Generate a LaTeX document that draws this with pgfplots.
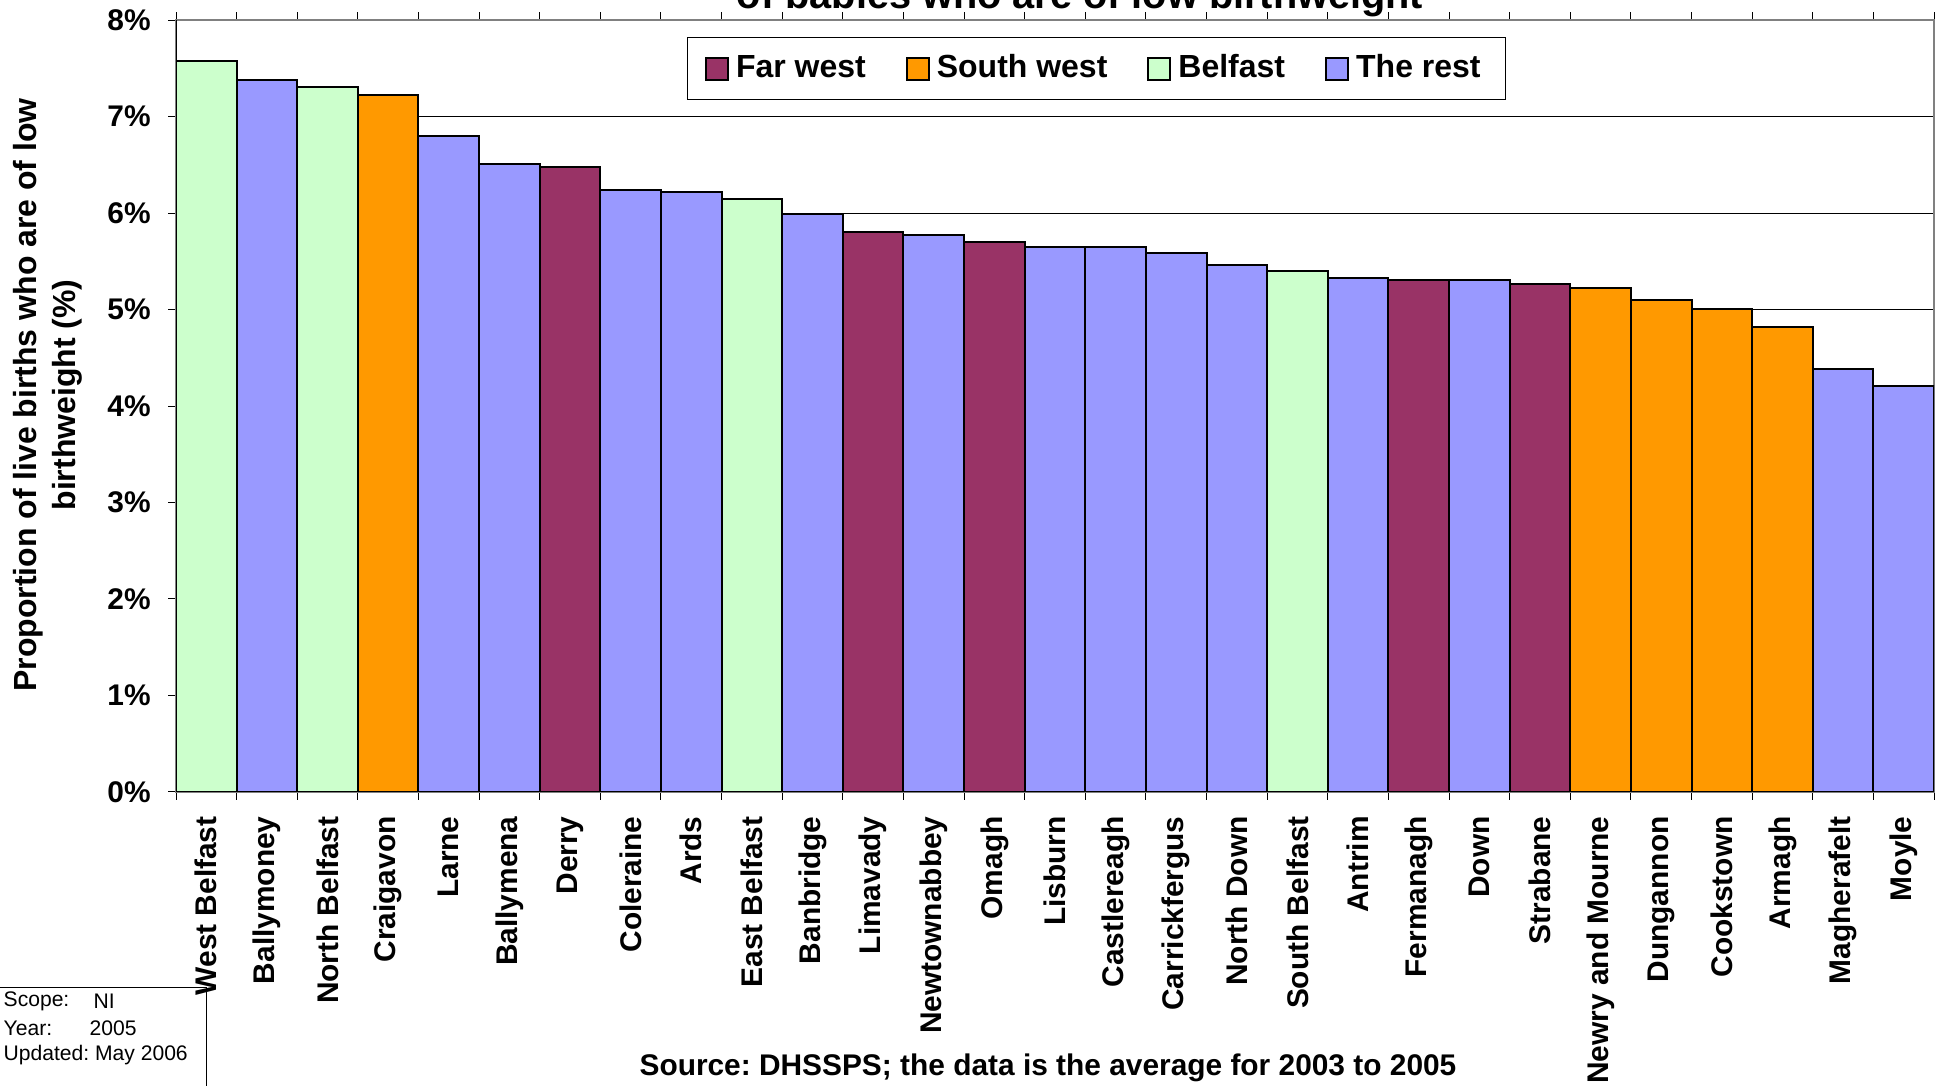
\documentclass[border=0pt]{standalone}
\usepackage{pgfplots}
\pgfplotsset{compat=1.18}
\usepackage{fontspec}
\setmainfont{Liberation Sans}
\frenchspacing

\definecolor{farwest}{RGB}{153,51,102}
\definecolor{southwest}{RGB}{255,153,0}
\definecolor{belfast}{RGB}{204,255,204}
\definecolor{therest}{RGB}{153,153,255}

\begin{document}
\begin{tikzpicture}[x=0.1mm,y=0.1mm]
	% page = 1935 x 1086 px, 1px = 0.1mm
	\useasboundingbox (0,0) rectangle (1935,1086);

	\begin{axis}[
		at={(176mm*0.1,294mm*0.1)}, anchor=south west,
		scale only axis,
		width=175.8mm, height=77.2mm,
		ybar,
		bar width=1,
		xmin=-0.5, xmax=28.5,
		ymin=0, ymax=8,
		xtick={-0.5,0.5,...,28.5},
		x tick label as interval,
		xticklabels={West Belfast,Ballymoney,North Belfast,Craigavon,Larne,Ballymena,Derry,Coleraine,Ards,East Belfast,Banbridge,Limavady,Newtownabbey,Omagh,Lisburn,Castlereagh,Carrickfergus,North Down,South Belfast,Antrim,Fermanagh,Down,Strabane,Newry and Mourne,Dungannon,Cookstown,Armagh,Magherafelt,Moyle},
		xticklabel style={rotate=90, anchor=east, font=\fontsize{8.5}{10}\selectfont\bfseries, xshift=-0.4mm},
		ytick={0,...,8},
		yticklabels={0\%,1\%,2\%,3\%,4\%,5\%,6\%,7\%,8\%},
		yticklabel style={font=\fontsize{8.5}{10}\selectfont\bfseries, xshift=-0.5mm},
		tick align=outside,
		major tick length=0.8mm,
		tick style={black, line width=0.1mm},
		ymajorgrids=true,
		grid style={black, line width=0.1mm},
		axis line style={gray, line width=0.2mm},
		legend columns=4,
		legend style={at={(0.5235,0.937)}, anchor=center, draw=black, line width=0.1mm,
			font=\fontsize{9.1}{11}\selectfont\bfseries,
			/tikz/every even column/.append style={column sep=3.3mm},
			inner xsep=1.8mm, inner ysep=1.0mm},
		legend image code/.code={\draw[#1, line width=0.2mm] (0,-1.1mm) rectangle (2.2mm,1.1mm);},
	]

	\addplot[fill=farwest, draw=black, line width=0.2mm, bar shift=0pt]
		coordinates {(6,6.48)(11,5.80)(13,5.70)(20,5.31)(22,5.26)};
	\addlegendentry{Far west}

	\addplot[fill=southwest, draw=black, line width=0.2mm, bar shift=0pt]
		coordinates {(3,7.22)(23,5.22)(24,5.10)(25,5.01)(26,4.82)};
	\addlegendentry{South west}

	\addplot[fill=belfast, draw=black, line width=0.2mm, bar shift=0pt]
		coordinates {(0,7.57)(2,7.31)(9,6.14)(18,5.40)};
	\addlegendentry{Belfast}

	\addplot[fill=therest, draw=black, line width=0.2mm, bar shift=0pt]
		coordinates {(1,7.38)(4,6.80)(5,6.51)(7,6.24)(8,6.22)(10,5.99)(12,5.77)
		(14,5.65)(15,5.65)(16,5.59)(17,5.46)(19,5.33)(21,5.31)(27,4.38)(28,4.21)};
	\addlegendentry{The rest}

	\draw[black, line width=0.15mm] (rel axis cs:0,0) -- (rel axis cs:0,1);
	\draw[black, line width=0.15mm] (rel axis cs:0,0) -- (rel axis cs:1,0);
	\end{axis}

	% title, mostly cut off by the top of the page
	\node[anchor=base, font=\fontsize{11.3}{13}\selectfont\bfseries] at (1080,1078)
		{of babies who are of low birthweight};

	\node[rotate=90, align=center, font=\fontsize{9.1}{11.2}\selectfont\bfseries] at (48,691)
		{Proportion of live births who are of low\\birthweight (\%)};

	\node[font=\fontsize{8.5}{10}\selectfont\bfseries] at (1048,18.5)
		{Source: DHSSPS; the data is the average for 2003 to 2005};

	\draw[black, line width=0.1mm] (0,99) -- (206,99) -- (206,0);
	\begin{scope}[every node/.style={anchor=west, inner sep=0pt, font=\fontsize{6}{7}\selectfont}]
		\node at (3,85) {Scope:};
		\node at (93,85) {NI};
		\node at (3,58) {Year:};
		\node at (89,58) {2005};
		\node at (3,31) {Updated: May 2006};
	\end{scope}
\end{tikzpicture}
\end{document}
